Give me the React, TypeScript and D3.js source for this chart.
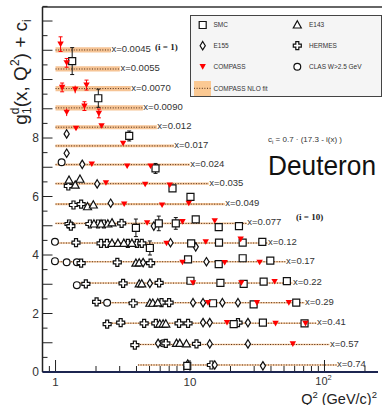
import React from 'react';
import * as d3 from 'd3';

const W = 382;
const H = 405;

// x bins, i = 1 .. 17
const xBins = ['0.0045', '0.0055', '0.0070', '0.0090', '0.012', '0.017', '0.024', '0.035', '0.049', '0.077', '0.12', '0.17', '0.22', '0.29', '0.41', '0.57', '0.74'];
// COMPASS NLO fit, plotted value g1 + c_i, and its Q2 span
const fitLevel = [11.01, 10.36, 9.69, 9.03, 8.37, 7.73, 7.09, 6.44, 5.74, 5.08, 4.41, 3.77, 3.04, 2.37, 1.67, 0.94, 0.24];
const fitErr = [0.09, 0.09, 0.09, 0.09, 0.07, 0.045, 0.04, 0.035, 0.035, 0.03, 0.025, 0.025, 0.025, 0.025, 0.025, 0.025, 0.025];
const fitQ2Min = [1, 1, 1, 1, 1, 1, 1, 1, 1, 1, 1, 1, 1.44, 2.03, 2.41, 3.89, 4.1];
const fitQ2Max = [2.58, 3.01, 3.63, 4.46, 5.67, 7.58, 9.96, 13.8, 18.1, 26.4, 37.7, 51.4, 57.9, 71.1, 87.3, 109, 123];

type Pt = [number, number, number]; // Q2, g1 + c_i, error

const compassPts: Pt[] = [
    [1.09, 11.21, 0.25],
    [1.21, 10.57, 0.15],
    [1.12, 9.73, 0.15], [1.4, 9.66, 0.13], [1.7, 9.81, 0.17],
    [1.21, 8.88, 0.13], [1.64, 9.09, 0.15], [2.1, 8.84, 0.15],
    [1.42, 8.33, 0.05], [2.2, 8.42, 0.05],
    [3.18, 7.82, 0.05],
    [1.86, 7.11, 0.04], [3.41, 7.04, 0.04], [5.09, 7.04, 0.04],
    [2.37, 6.47, 0.04], [4.64, 6.42, 0.04], [7.07, 6.39, 0.04],
    [3.24, 5.74, 0.03], [6.2, 5.71, 0.03], [9.79, 5.77, 0.03],
    [4.8, 5.1, 0.03], [8.79, 5.14, 0.03], [15.27, 5.17, 0.03],
    [6.69, 4.4, 0.03], [13.09, 4.45, 0.03], [23.81, 4.54, 0.03],
    [8.79, 3.75, 0.02], [18.11, 3.74, 0.02], [32.94, 3.75, 0.02],
    [10.53, 3.05, 0.02], [24.09, 3.05, 0.02], [42.55, 3.09, 0.02],
    [13.61, 2.37, 0.02], [31.46, 2.37, 0.02], [54.33, 2.37, 0.02],
    [18.84, 1.69, 0.02], [43.28, 1.66, 0.02], [72.28, 1.66, 0.02],
    [58.18, 0.96, 0.02],
];

const smcPts: Pt[] = [
    [1.33, 10.63, 0.46],
    [2.08, 9.36, 0.31],
    [3.53, 8.07, 0.17],
    [5.54, 6.96, 0.17],
    [7.41, 6.28, 0.11],
    [10.08, 5.99, 0.05],
    [3.96, 4.93, 0.3], [5.86, 5.08, 0.25], [7.84, 5.08, 0.2], [11.03, 5.22, 0.05], [16.35, 4.95, 0.05], [23.12, 4.99, 0.1],
    [5.03, 4.24, 0.24], [10.2, 4.4, 0.05], [16.43, 4.42, 0.04], [24.64, 4.42, 0.04], [34.49, 4.45, 0.04],
    [9.67, 3.85, 0.04], [16.35, 3.69, 0.04], [24.64, 3.89, 0.04], [39.54, 3.81, 0.04],
    [10.08, 3.12, 0.03], [16.83, 3.05, 0.03], [25.06, 3.01, 0.03], [35.27, 3.09, 0.03], [52.51, 3.11, 0.03],
    [14.83, 2.35, 0.03], [29.72, 2.31, 0.03], [61.66, 2.37, 0.03],
    [21.12, 1.64, 0.03], [34.84, 1.69, 0.03], [71.07, 1.66, 0.03],
    [9.54, 0.21, 0.02],
];

const e155Pts: Pt[] = [
    [1.21, 8.14, 0.05],
    [1.21, 7.48, 0.05],
    [1.58, 7.1, 0.03],
    [2.04, 6.43, 0.03],
    [2.57, 5.77, 0.03],
    [5.38, 4.99, 0.03],
    [7.16, 4.42, 0.03], [11.03, 4.28, 0.03],
    [4.48, 3.74, 0.03], [13.25, 3.77, 0.03],
    [5.03, 3.03, 0.02],
    [10.53, 2.37, 0.02], [12.5, 2.37, 0.02], [17.41, 2.37, 0.02], [22.74, 2.37, 0.02],
    [12.5, 1.69, 0.02], [14.02, 1.69, 0.02], [26.97, 1.69, 0.02],
    [5.79, 0.98, 0.02], [14.02, 0.96, 0.02], [26.97, 0.96, 0.02],
    [9.62, 0.27, 0.02], [15.27, 0.24, 0.02], [34.84, 0.21, 0.02],
];

const e143Pts: Pt[] = [
    [1.26, 6.56, 0.13], [1.52, 6.59, 0.05], [1.4, 6.39, 0.05],
    [1.73, 5.65, 0.04], [1.91, 5.71, 0.04],
    [1.93, 5.06, 0.03], [2.18, 5.06, 0.03], [2.45, 5.06, 0.03], [2.63, 5.1, 0.03],
    [2.63, 4.4, 0.03], [2.91, 4.4, 0.03], [3.22, 4.4, 0.03], [3.7, 4.4, 0.03],
    [3.96, 3.72, 0.03], [4.19, 3.73, 0.03],
    [4.19, 3.01, 0.02], [4.38, 3.01, 0.02],
    [5.03, 2.35, 0.02], [5.29, 2.35, 0.02], [5.76, 2.36, 0.02],
    [5.96, 1.64, 0.02], [6.31, 1.64, 0.02], [6.61, 1.64, 0.02],
    [7.93, 0.98, 0.02], [8.39, 0.98, 0.02], [9.41, 0.96, 0.02],
];

const hermesPts: Pt[] = [
    [1.245, 6.36, 0.03],
    [1.36, 5.71, 0.03], [1.55, 5.74, 0.03],
    [1.26, 5.06, 0.03], [1.3, 4.99, 0.03], [1.8, 5.06, 0.03], [2.07, 5.06, 0.03], [2.29, 5.06, 0.03], [3.1, 5.08, 0.03],
    [1.42, 4.42, 0.03], [2.18, 4.4, 0.03], [2.41, 4.4, 0.03], [3.45, 4.4, 0.03], [4.03, 4.4, 0.03], [4.38, 4.4, 0.03],
    [1.55, 3.72, 0.02], [2.88, 3.75, 0.02], [5.09, 3.72, 0.02],
    [1.68, 3.01, 0.02], [3.18, 3.03, 0.02], [5.89, 3.05, 0.02],
    [2.02, 2.4, 0.02], [3.78, 2.35, 0.02], [6.14, 2.37, 0.02], [6.99, 2.37, 0.02],
    [2.42, 1.64, 0.02], [3.05, 1.69, 0.02], [4.56, 1.66, 0.02], [5.57, 1.66, 0.02], [8.29, 1.66, 0.02], [9.67, 1.66, 0.02], [22.74, 1.69, 0.02],
    [3.89, 0.92, 0.02], [6.61, 0.98, 0.02], [11.17, 0.96, 0.02],
    [14.43, 0.24, 0.02],
];

const clasPts: Pt[] = [
    [1.11, 7.17, 0.03],
    [0.99, 4.45, 0.03],
    [0.99, 3.79, 0.03], [1.21, 3.75, 0.03], [1.44, 3.75, 0.03],
    [1.44, 2.97, 0.03],
    [2.42, 2.37, 0.02],
    [6.31, 0.98, 0.02],
];

const yTickLabels = [0, 2, 4, 6, 8];

const FONT = 'Liberation Sans, Arial, Helvetica, sans-serif';
const INK = '#111';

const x = d3.scaleLog().domain([0.8, 250]).range([42.5, 378]);
const y = d3.scaleLinear().domain([0, 12.5]).range([372, 6.4]);

type Shape = 'square' | 'triUp' | 'diamond' | 'cross' | 'circle' | 'triDown';

const shapePath: Record<Shape, string> = {
    square: 'M-3.5,-3.5H3.5V3.5H-3.5Z',
    triUp: 'M0,-4.2L4,3L-4,3Z',
    diamond: 'M0,-4.2L2.6,0L0,4.2L-2.6,0Z',
    cross: 'M-1.5,-4H1.5V-1.5H4V1.5H1.5V4H-1.5V1.5H-4V-1.5H-1.5Z',
    circle: '',
    triDown: 'M-3.2,-2.6L3.2,-2.6L0,3Z',
};

const Marker: React.FC<{ shape: Shape; cx: number; cy: number }> = ({ shape, cx, cy }) => {
    if (shape === 'circle') {
        return <circle cx={cx} cy={cy} r={3.4} fill="white" stroke={INK} strokeWidth={1.2} />;
    }
    if (shape === 'triDown') {
        return <path d={shapePath.triDown} transform={`translate(${cx},${cy})`} fill="#ff0000" />;
    }
    return (
        <path
            d={shapePath[shape]}
            transform={`translate(${cx},${cy})`}
            fill="white"
            stroke={INK}
            strokeWidth={1.2}
        />
    );
};

const series: { name: string; pts: Pt[]; shape: Shape; color: string }[] = [
    { name: 'CLAS', pts: clasPts, shape: 'circle', color: INK },
    { name: 'HERMES', pts: hermesPts, shape: 'cross', color: INK },
    { name: 'E143', pts: e143Pts, shape: 'triUp', color: INK },
    { name: 'E155', pts: e155Pts, shape: 'diamond', color: INK },
    { name: 'SMC', pts: smcPts, shape: 'square', color: INK },
    { name: 'COMPASS', pts: compassPts, shape: 'triDown', color: '#ff0000' },
];

const App: React.FC = () => {
    const majorX = [1, 10, 100];
    const minorX = [0.9, 2, 3, 4, 5, 6, 7, 8, 9, 20, 30, 40, 50, 60, 70, 80, 90, 200];
    const yTicks = d3.range(0, 12.5 + 1e-6, 0.5);

    return (
        <svg
            width={W}
            height={H}
            style={{ position: 'absolute', left: 0, top: 0, background: 'white' }}
            fontFamily={FONT}
        >
            {/* fit bands */}
            {xBins.map((b, i) => (
                <line
                    key={'band' + b}
                    x1={x(fitQ2Min[i])}
                    x2={x(fitQ2Max[i])}
                    y1={y(fitLevel[i])}
                    y2={y(fitLevel[i])}
                    stroke="#f6be8a"
                    strokeWidth={Math.max(1.2, y(0) - y(fitErr[i] * 2))}
                    opacity={0.9}
                />
            ))}
            {xBins.map((b, i) => (
                <line
                    key={'fit' + b}
                    x1={x(fitQ2Min[i])}
                    x2={x(fitQ2Max[i])}
                    y1={y(fitLevel[i])}
                    y2={y(fitLevel[i])}
                    stroke="#4a2a14"
                    strokeWidth={1}
                    strokeDasharray="1,1.6"
                />
            ))}
            {xBins.map((b, i) => (
                <text
                    key={'lab' + b}
                    x={x(fitQ2Max[i]) + 0.5}
                    y={y(fitLevel[i]) + 2}
                    fontSize={9.5}
                    fill="#333"
                >
                    {'x=' + b}
                </text>
            ))}
            <text x={155} y={50} fontFamily="Liberation Serif, DejaVu Serif, serif" fontWeight="bold" fontSize={9} fill="#222">
                (i = 1)
            </text>
            <text x={296} y={220} fontFamily="Liberation Serif, DejaVu Serif, serif" fontWeight="bold" fontSize={9} fill="#222">
                (i = 10)
            </text>

            {/* data points */}
            {series.map((s) => (
                <g key={s.name}>
                    {s.pts.map((p, j) => {
                        const cx = x(p[0]);
                        const cy = y(p[1]);
                        const top = y(p[1] + p[2]);
                        const bot = y(p[1] - p[2]);
                        return (
                            <g key={j}>
                                <line x1={cx} x2={cx} y1={top} y2={bot} stroke={s.color} strokeWidth={1} />
                                {bot - top > 8 && (
                                    <>
                                        <line x1={cx - 2} x2={cx + 2} y1={top} y2={top} stroke={s.color} strokeWidth={1} />
                                        <line x1={cx - 2} x2={cx + 2} y1={bot} y2={bot} stroke={s.color} strokeWidth={1} />
                                    </>
                                )}
                                <Marker shape={s.shape} cx={cx} cy={cy} />
                            </g>
                        );
                    })}
                </g>
            ))}

            {/* frame and axes */}
            <line x1={42.5} x2={W} y1={7} y2={7} stroke="#333" strokeWidth={1.5} />
            <line x1={42.5} x2={42.5} y1={7} y2={372} stroke="#222" strokeWidth={1.5} />
            {yTicks.map((t) => (
                <line
                    key={'yt' + t}
                    x1={42.5}
                    x2={42.5 + (t % 1 === 0 ? 10 : 5)}
                    y1={y(t)}
                    y2={y(t)}
                    stroke="#222"
                    strokeWidth={1}
                />
            ))}
            {yTickLabels.map((t) => (
                <text key={'yl' + t} x={39} y={y(t) + 4} textAnchor="end" fontSize={12} fill="#333">
                    {t}
                </text>
            ))}
            {majorX.map((t) => (
                <line key={'xM' + t} x1={x(t)} x2={x(t)} y1={372} y2={360} stroke="#222" strokeWidth={1} />
            ))}
            {minorX.map((t) => (
                <line key={'xm' + t} x1={x(t)} x2={x(t)} y1={372} y2={366} stroke="#222" strokeWidth={1} />
            ))}
            <line x1={42.5} x2={378} y1={372} y2={372} stroke="#1c2550" strokeWidth={2} />
            <text x={x(1)} y={386} textAnchor="middle" fontSize={11.5} fill="#333">1</text>
            <text x={x(10)} y={386} textAnchor="middle" fontSize={11.5} fill="#333">10</text>
            <text x={x(100) - 1} y={385} textAnchor="middle" fontSize={11} fill="#333">
                10<tspan dy={-5} fontSize={7.5}>2</tspan>
            </text>
            <text x={377} y={403.5} textAnchor="end" fontSize={14.5} fill="#222">
                Q<tspan dy={-5.5} fontSize={9.5}>2</tspan>
                <tspan dy={5.5}> (GeV/c)</tspan>
                <tspan dy={-5.5} fontSize={9.5}>2</tspan>
            </text>

            {/* y title */}
            <text transform="translate(27,72) rotate(-90)" textAnchor="middle" fontSize={19} fill="#222">
                g<tspan dy={-8} fontSize={12}>d</tspan>
                <tspan dx={-6.5} dy={12} fontSize={12}>1</tspan>
                <tspan dy={-4}>(x, Q</tspan>
                <tspan dy={-8} fontSize={12}>2</tspan>
                <tspan dy={8}>) + c</tspan>
                <tspan dy={4} fontSize={12}>i</tspan>
            </text>

            {/* legend */}
            <rect x={190.5} y={15.5} width={191} height={81} fill="#f5f5f5" stroke="#444" strokeWidth={1} />
            <Marker shape="square" cx={202.7} cy={25} />
            <text x={213.5} y={27.3} fontSize={6.5} fill="#333">SMC</text>
            <Marker shape="triUp" cx={297.3} cy={25} />
            <text x={309} y={27.3} fontSize={6.5} fill="#333">E143</text>
            <Marker shape="diamond" cx={202.7} cy={45.7} />
            <text x={213.5} y={48} fontSize={6.5} fill="#333">E155</text>
            <Marker shape="cross" cx={297.3} cy={45.7} />
            <text x={309} y={48} fontSize={6.5} fill="#333">HERMES</text>
            <Marker shape="triDown" cx={202.7} cy={66.7} />
            <text x={213.5} y={69} fontSize={6.5} fill="#333">COMPASS</text>
            <Marker shape="circle" cx={297.3} cy={66.7} />
            <text x={309} y={69} fontSize={6.5} fill="#333">CLAS W&gt;2.5 GeV</text>
            <rect x={194} y={81} width={17} height={15} fill="#fbc993" />
            <line x1={194} x2={211} y1={88.3} y2={88.3} stroke="#4a2a14" strokeWidth={1} strokeDasharray="1,1.6" />
            <text x={213.5} y={90.6} fontSize={6.5} fill="#333">COMPASS NLO fit</text>

            {/* annotations */}
            <text x={268} y={142} fontSize={8} fill="#333">
                c<tspan dy={2} fontSize={6}>i</tspan>
                <tspan dy={-2}> = 0.7 · (17.3 - i(x) )</tspan>
            </text>
            <text x={268} y={174.5} fontSize={28} fill="#111" textLength={108} lengthAdjust="spacingAndGlyphs">
                Deuteron
            </text>
        </svg>
    );
};

export default App;
